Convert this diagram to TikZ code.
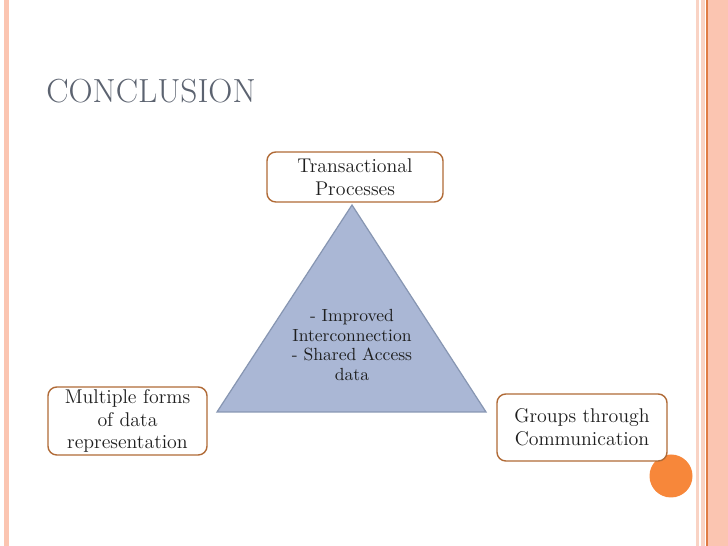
\documentclass[tikz,border=0pt]{standalone}
\usepackage{tikz}
\usetikzlibrary{positioning}

\definecolor{barpink}{HTML}{FBC5B1}
\definecolor{stripepink}{HTML}{F9D3C4}
\definecolor{lineorange}{HTML}{E07C45}
\definecolor{dotorange}{HTML}{F7873A}
\definecolor{boxbrown}{HTML}{B06A36}
\definecolor{trifill}{HTML}{AAB7D5}
\definecolor{triedge}{HTML}{8796B2}
\definecolor{titlegray}{HTML}{5C6370}
\definecolor{textdark}{HTML}{1E1E1E}

\begin{document}
\begin{tikzpicture}[
  x=0.02cm, y=-0.02cm,
  box/.style={draw=boxbrown, line width=0.8pt, rounded corners=5pt, fill=white,
    align=center, text=textdark, inner sep=0pt, font=\fontsize{11.3}{13}\selectfont},
  core/.style={align=center, text=textdark, font=\fontsize{10}{11.2}\selectfont},
]
\useasboundingbox (0,0) rectangle (728,546);

% page frame
\fill[barpink] (4,0) rectangle (9,546);
\fill[stripepink] (696,0) rectangle (699,546);
\fill[stripepink] (701,0) rectangle (705,546);
\fill[barpink] (708,0) rectangle (728,546);
\draw[lineorange, line width=0.6pt] (707,0) -- (707,546);

\node[anchor=base west, inner sep=0pt, text=titlegray, font=\fontsize{19}{22}\selectfont] (title) at (46,103) {CONCLUSION};

% triangle
\coordinate (apex) at (352,205);
\coordinate (baseL) at (217,412);
\coordinate (baseR) at (486,412);
\filldraw[fill=trifill, draw=triedge, line width=0.7pt] (apex) -- (baseL) -- (baseR) -- cycle;
\node[core] (gain) at (352,345) {- Improved\\Interconnection\\- Shared Access\\data};

\fill[dotorange] (671,476) circle (21.5);

% corner boxes
\node[box, minimum width=176*0.02cm, minimum height=50*0.02cm] (trans) at (355,177) {Transactional\\Processes};
\node[box, minimum width=159*0.02cm, minimum height=68*0.02cm] (forms) at (127.5,421) {Multiple forms\\of data\\representation};
\node[box, minimum width=170*0.02cm, minimum height=67*0.02cm] (groups) at (582,427.5) {Groups through\\Communication};
\end{tikzpicture}
\end{document}
